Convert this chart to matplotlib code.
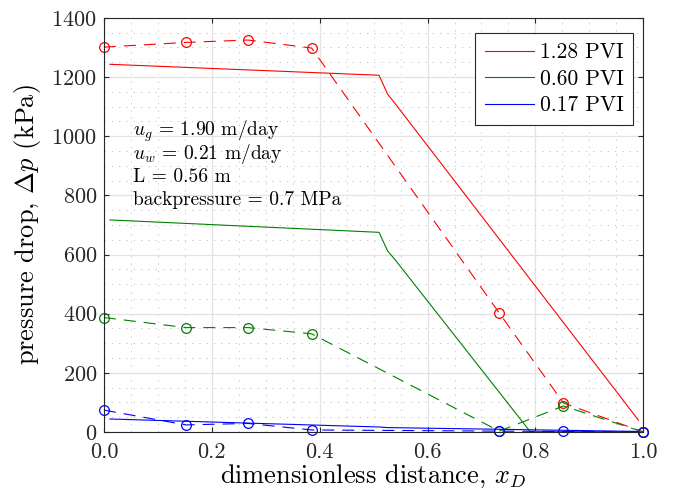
import matplotlib
matplotlib.use("Agg")
import matplotlib.pyplot as plt
from matplotlib.ticker import MultipleLocator, FormatStrFormatter

plt.rcParams["font.family"] = "serif"
plt.rcParams["font.serif"] = ["cmr10"]
plt.rcParams["mathtext.fontset"] = "cm"
plt.rcParams["axes.formatter.use_mathtext"] = True
plt.rcParams["axes.unicode_minus"] = False

# Pressure-tap measurements (dimensionless position, kPa)
x_meas = [0.0, 0.152, 0.267, 0.385, 0.733, 0.852, 1.0]
dp_meas_128 = [1301, 1317, 1325, 1298, 402, 98, 0]
dp_meas_060 = [387, 353, 353, 332, 3, 88, 0]
dp_meas_017 = [74, 24, 29, 7, 3, 2, 0]

# Model profiles
x_mod_128 = [0.011, 0.510, 0.526, 0.540, 0.991]
dp_mod_128 = [1243, 1206, 1142, 1110, 40]
x_mod_060 = [0.011, 0.510, 0.526, 0.540, 0.790, 0.991]
dp_mod_060 = [717, 675, 612, 582, 2, 1]
x_mod_017 = [0.011, 0.510, 0.526, 0.991]
dp_mod_017 = [44, 17, 15, 2]

labels = ["1.28 PVI", "0.60 PVI", "0.17 PVI"]
colors = ["#ff0000", "#008000", "#0000ff"]

# Experimental conditions
conditions = ["$u_g$ = 1.90 m/day", "$u_w$ = 0.21 m/day",
              "L = 0.56 m", "backpressure = 0.7 MPa"]

fig = plt.figure(figsize=(6.75, 4.96), dpi=100)
ax = fig.add_axes([0.154, 0.129, 0.799, 0.835])

series = [
    (x_mod_128, dp_mod_128, dp_meas_128),
    (x_mod_060, dp_mod_060, dp_meas_060),
    (x_mod_017, dp_mod_017, dp_meas_017),
]
handles = []
for (xm, ym, yd), lab, c in zip(series, labels, colors):
    h, = ax.plot(xm, ym, color=c, lw=0.8, label=lab)
    ax.plot(x_meas, yd, color=c, lw=0.8, ls=(0, (10.8, 7.2)),
            marker="o", markersize=7, markerfacecolor="none",
            markeredgewidth=0.9, clip_on=False)
    handles.append(h)

ax.set_xlim(0, 1)
ax.set_ylim(0, 1400)
ax.xaxis.set_major_locator(MultipleLocator(0.2))
ax.xaxis.set_minor_locator(MultipleLocator(0.05))
ax.yaxis.set_major_locator(MultipleLocator(200))
ax.yaxis.set_minor_locator(MultipleLocator(50))
ax.xaxis.set_major_formatter(FormatStrFormatter("%.1f"))

ax.grid(True, which="major", color="#e3e3e3", lw=0.9, ls="-")
ax.grid(True, which="minor", color="#cccccc", lw=0.7, ls=(0, (1.5, 6)))
ax.set_axisbelow(True)

for s in ax.spines.values():
    s.set_color("#262626")
    s.set_linewidth(0.8)
ax.tick_params(which="both", direction="in", top=True, right=True,
               colors="#262626", labelsize=16)
ax.tick_params(which="major", length=3.6)
ax.tick_params(which="minor", length=0)
ax.tick_params(axis="x", which="major", pad=7.5)
ax.tick_params(axis="y", which="major", pad=5)

ax.set_xlabel(r"dimensionless distance, $x_D$", fontsize=19, labelpad=0.5)
ax.set_ylabel(r"pressure drop, $\Delta p$ (kPa)", fontsize=19, labelpad=6)

for i, line in enumerate(conditions):
    ax.text(0.053, 1001 - 78 * i, line, fontsize=14,
            va="baseline", ha="left")

leg = ax.legend(handles=handles, loc="upper right", fontsize=15.5,
                frameon=True, fancybox=False, edgecolor="#262626",
                framealpha=1, borderpad=0.45, borderaxespad=0,
                handlelength=2.3, handletextpad=0.25, labelspacing=0.33,
                bbox_to_anchor=(0.9815, 0.9638))
leg.get_frame().set_linewidth(0.8)

fig.savefig("out.png", dpi=100)
